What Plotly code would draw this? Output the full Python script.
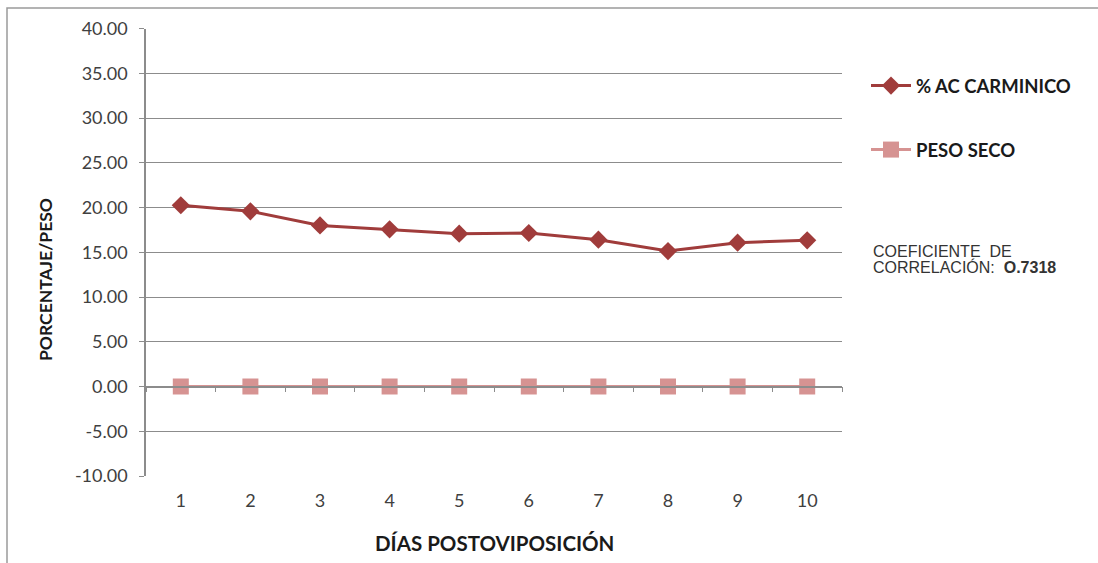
import plotly.graph_objects as go

# Days after oviposition and the measured series
dias = [1, 2, 3, 4, 5, 6, 7, 8, 9, 10]
ac_carminico = [20.25, 19.57, 18.0, 17.56, 17.08, 17.15, 16.4, 15.13, 16.07, 16.33]
peso_seco = [0.0, 0.0, 0.0, 0.0, 0.0, 0.0, 0.0, 0.0, 0.0, 0.0]
y_ticks = [-10, -5, 0, 5, 10, 15, 20, 25, 30, 35, 40]
y_ticktext = [f"{v:.2f}" for v in y_ticks]

W, H = 1098, 563
# plot area in pixels
x0, x1 = 146, 842
y_top, y_bot = 28.5, 476
dom_x = [x0 / W, x1 / W]
dom_y = [(H - y_bot) / H, (H - y_top) / H]
y_min, y_max = -10, 40
zero_pos = dom_y[0] + (0 - y_min) / (y_max - y_min) * (dom_y[1] - dom_y[0])

RED = "#A03C3B"
PINK = "#D69392"
GRID = "#8C8C8C"
TXT = "#404040"
DARK = "#1a1a1a"
FONT = "Lato, Carlito, Calibri, sans-serif"
ARIAL = "Liberation Sans, Arial, sans-serif"

fig = go.Figure()
fig.add_trace(go.Scatter(
    x=dias, y=ac_carminico, name="<b>% AC CARMINICO</b>", mode="lines+markers",
    line=dict(color=RED, width=3),
    marker=dict(symbol="diamond", size=14, color=RED),
    legendgroup="a", legendrank=1,
))
fig.add_trace(go.Scatter(
    x=dias, y=peso_seco, name="<b>PESO SECO</b>", mode="lines+markers",
    line=dict(color=PINK, width=3),
    marker=dict(symbol="square", size=16, color=PINK),
    legendgroup="b", legendrank=2,
))
# empty trace so the zero-line axis is drawn
fig.add_trace(go.Scatter(x=[None], y=[None], xaxis="x2", showlegend=False,
                         hoverinfo="skip"))

fig.update_layout(
    width=W, height=H,
    margin=dict(l=0, r=0, t=0, b=0),
    paper_bgcolor="white", plot_bgcolor="white",
    font=dict(family=FONT, size=18, color=TXT),
    xaxis=dict(
        domain=dom_x, range=[0.5, 10.5], tickmode="array", tickvals=dias,
        ticktext=[str(d) for d in dias], showgrid=False, zeroline=False,
        showline=False, ticks="", ticklabelstandoff=12, automargin=False,
    ),
    xaxis2=dict(
        overlaying="x", anchor="free", position=zero_pos, range=[0.5, 10.5],
        tickmode="array", tickvals=[d + 0.5 for d in [0] + dias],
        showticklabels=False, ticks="outside", ticklen=5, tickcolor=GRID,
        showline=True, linecolor=GRID, linewidth=1.5, showgrid=False,
        zeroline=False, automargin=False,
    ),
    yaxis=dict(
        domain=dom_y, range=[y_min, y_max], tickmode="array", tickvals=y_ticks,
        ticktext=y_ticktext, showgrid=True, gridcolor=GRID, gridwidth=1,
        zeroline=False, showline=True, linecolor=GRID, linewidth=1.5,
        ticks="outside", ticklen=5, tickcolor=GRID, ticklabelstandoff=8,
        automargin=False,
    ),
    legend=dict(
        x=866 / W, y=1 - 67 / H, xanchor="left", yanchor="top",
        font=dict(size=18.5, color=DARK, family=FONT),
        tracegroupgap=37, itemwidth=40, bgcolor="rgba(0,0,0,0)",
    ),
    showlegend=True,
)

# axis titles
fig.add_annotation(
    x=494 / W, y=1 - 543 / H, xref="paper", yref="paper",
    xanchor="center", yanchor="middle", showarrow=False,
    text="<b>DÍAS POSTOVIPOSICIÓN</b>",
    font=dict(family=FONT, size=20.5, color=DARK),
)
fig.add_annotation(
    x=45 / W, y=1 - 280 / H, xref="paper", yref="paper",
    xanchor="center", yanchor="middle", showarrow=False, textangle=-90,
    text="<b>PORCENTAJE/PESO</b>",
    font=dict(family=FONT, size=17.5, color=DARK),
)

# correlation note
for txt, yc in [("COEFICIENTE  DE", 252), ("CORRELACIÓN:  <b>O.7318</b>", 266.5)]:
    fig.add_annotation(
        x=871 / W, y=1 - yc / H, xref="paper", yref="paper",
        xanchor="left", yanchor="middle", align="left", showarrow=False,
        text=txt, font=dict(family=ARIAL, size=16, color="#333333"),
    )

# outer chart border
fig.add_shape(type="rect", xref="paper", yref="paper",
              x0=7 / W, x1=1.2, y0=-0.2, y1=1 - 8 / H,
              line=dict(color="#9a9a9a", width=1.5))

fig.write_html("out.html")
